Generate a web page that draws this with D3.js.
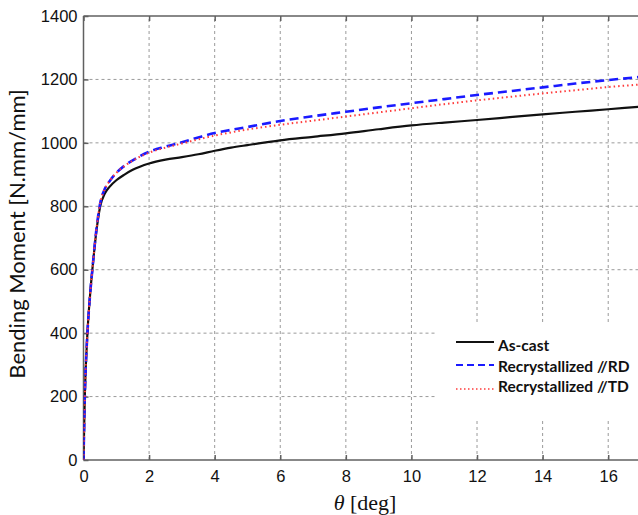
<!DOCTYPE html>
<html><head><meta charset="utf-8">
<script src="https://cdn.jsdelivr.net/npm/d3@7/dist/d3.min.js"></script>
<style>body{margin:0;background:#fff}svg{display:block}</style>
</head><body>
<svg id="c" width="638" height="515"></svg>
<script>
const theta = [0, 0.04, 0.12, 0.2, 0.27, 0.38, 0.51, 0.65, 0.8, 1.0, 1.25, 1.5, 2, 2.5, 3, 3.5, 4, 4.5, 5, 6, 7, 8, 9, 10, 11, 12, 13, 14, 15, 16, 17];
const asCast = [0, 200, 400, 520, 600, 710, 800, 840, 862, 882, 900, 915, 935, 947, 955, 964, 975, 985, 993, 1008, 1019, 1030, 1043, 1055, 1064, 1072, 1081, 1090, 1098, 1106, 1114];
const recrystRD = [0, 200, 400, 520, 600, 715, 810, 855, 880, 905, 928, 945, 972, 988, 1002, 1017, 1031, 1041, 1050, 1069, 1084, 1098, 1112, 1125, 1138, 1151, 1163, 1175, 1187, 1198, 1208];
const recrystTD = [0, 200, 400, 520, 600, 715, 810, 855, 880, 905, 927, 944, 969, 985, 998, 1011, 1023, 1033, 1042, 1057, 1070, 1083, 1096, 1109, 1122, 1134, 1145, 1156, 1166, 1176, 1184];
const xTicks = [0, 2, 4, 6, 8, 10, 12, 14, 16];
const yTicks = [0, 200, 400, 600, 800, 1000, 1200, 1400];
const seriesNames = ["As-cast", "Recrystallized //RD", "Recrystallized //TD"];

const svg = d3.select("#c");
const x = d3.scaleLinear().domain([0, 17]).range([83.5, 641]);
const y = d3.scaleLinear().domain([0, 1400]).range([460, 16]);

// grid
const grid = svg.append("g").attr("stroke", "#9a9a9a").attr("stroke-width", 1).attr("stroke-dasharray", "3,3");
xTicks.filter(d => d > 0).forEach(d => grid.append("line").attr("x1", x(d)).attr("x2", x(d)).attr("y1", y(0)).attr("y2", y(1400)));
yTicks.filter(d => d > 0 && d < 1400).forEach(d => grid.append("line").attr("x1", x(0)).attr("x2", 638).attr("y1", y(d)).attr("y2", y(d)));

// frame
const frame = svg.append("g").attr("stroke", "#606060").attr("stroke-width", 1.5).attr("fill", "none");
frame.append("line").attr("x1", x(0)).attr("x2", 638).attr("y1", y(0)).attr("y2", y(0));
frame.append("line").attr("x1", x(0)).attr("x2", 638).attr("y1", y(1400)).attr("y2", y(1400));
frame.append("line").attr("x1", x(0)).attr("x2", x(0)).attr("y1", y(0)).attr("y2", y(1400));

// axes
const fmt = d3.format("d");
const xAxis = svg.append("g").attr("transform", `translate(0,${y(0)})`)
  .call(d3.axisBottom(x).tickValues(xTicks).tickFormat(fmt).tickSize(-5).tickPadding(10));
const xAxisTop = svg.append("g").attr("transform", `translate(0,${y(1400)})`)
  .call(d3.axisTop(x).tickValues(xTicks).tickSize(-5).tickFormat(""));
const yAxis = svg.append("g").attr("transform", `translate(${x(0)},0)`)
  .call(d3.axisLeft(y).tickValues(yTicks).tickFormat(fmt).tickSize(-5).tickPadding(6));
[xAxis, xAxisTop, yAxis].forEach(a => {
  a.select(".domain").remove();
  a.selectAll(".tick line").attr("stroke", "#606060").attr("stroke-width", 1.5);
  a.selectAll("text").attr("font-family", "Liberation Sans, Arial, sans-serif").attr("font-size", 16.5).attr("fill", "#111");
});

// lines
const line = d3.line().curve(d3.curveMonotoneX).x((d, i) => x(theta[i])).y(d => y(d));
const styles = [
  { data: asCast, color: "#111", width: 2.2, dash: null },
  { data: recrystRD, color: "#1a1aff", width: 2.6, dash: "9,5" },
  { data: recrystTD, color: "#ff3b3b", width: 2, dash: "1.5,3" }
];
svg.append("clipPath").attr("id", "pc").append("rect")
  .attr("x", x(0)).attr("y", y(1400)).attr("width", 638 - x(0)).attr("height", y(0) - y(1400));
svg.append("g").attr("clip-path", "url(#pc)").selectAll("path").data(styles).join("path")
  .attr("d", s => line(s.data)).attr("fill", "none")
  .attr("stroke", s => s.color).attr("stroke-width", s => s.width)
  .attr("stroke-dasharray", s => s.dash);

// legend
const leg = svg.append("g");
leg.append("rect").attr("x", 437).attr("y", 322).attr("width", 210).attr("height", 96).attr("fill", "#fff");
const ly = [342, 365, 389];
const ty = [345, 366, 386];
styles.forEach((s, i) => {
  leg.append("line").attr("x1", 456).attr("x2", 494).attr("y1", ly[i]).attr("y2", ly[i])
    .attr("stroke", s.color).attr("stroke-width", i === 2 ? 1.5 : 2.2).attr("stroke-dasharray", i === 1 ? "7,4" : (i === 2 ? "1.5,2.5" : null));
  leg.append("text").attr("x", 498).attr("y", ty[i]).attr("dominant-baseline", "central")
    .attr("font-family", "Lato, sans-serif").attr("font-weight", "bold").attr("font-size", 15.5)
    .attr("fill", "#111").text(seriesNames[i]);
});

// axis titles
svg.append("text").attr("transform", "translate(16,234) rotate(-90)").attr("text-anchor", "middle")
  .attr("dominant-baseline", "central").attr("font-family", "Lato, sans-serif").attr("font-size", 22)
  .attr("fill", "#111").text("Bending Moment [N.mm/mm]");
const xt = svg.append("text").attr("x", 365).attr("y", 510).attr("text-anchor", "middle")
  .attr("font-family", "Liberation Serif, Times New Roman, serif").attr("font-size", 22).attr("fill", "#111");
xt.append("tspan").attr("font-style", "italic").text("θ");
xt.append("tspan").text(" [deg]");
</script>
</body></html>
